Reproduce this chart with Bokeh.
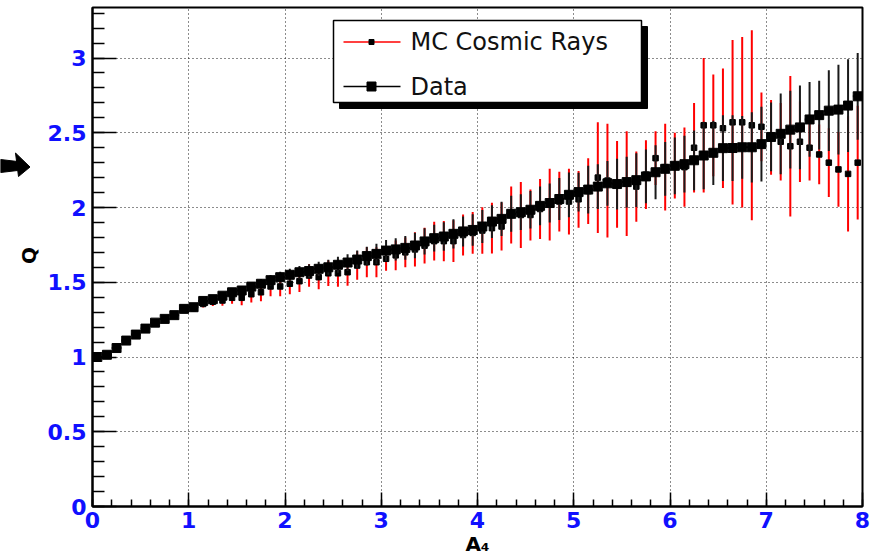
import numpy as np
from bokeh.plotting import figure
from bokeh.layouts import row
from bokeh.models import FixedTicker, ColumnDataSource
from bokeh.core.properties import value
from bokeh.embed import file_html
from bokeh.resources import INLINE

# ---------------- data ----------------
bin_width = 0.1
a4 = np.round(np.arange(0.05, 8.0, bin_width), 2)   # bin centres of A4

data_q = [1.000, 1.015, 1.060, 1.110, 1.150, 1.190, 1.230, 1.255, 1.280, 1.322,
          1.333, 1.375, 1.387, 1.410, 1.433, 1.445, 1.471, 1.490, 1.514, 1.534,
          1.550, 1.567, 1.575, 1.590, 1.600, 1.617, 1.632, 1.652, 1.675, 1.690,
          1.712, 1.720, 1.730, 1.746, 1.773, 1.795, 1.806, 1.824, 1.840, 1.850,
          1.873, 1.906, 1.924, 1.958, 1.969, 1.985, 2.011, 2.030, 2.057, 2.085,
          2.103, 2.120, 2.140, 2.162, 2.157, 2.170, 2.183, 2.208, 2.236, 2.259,
          2.279, 2.290, 2.316, 2.348, 2.366, 2.397, 2.398, 2.403, 2.403, 2.424,
          2.472, 2.493, 2.521, 2.536, 2.589, 2.618, 2.648, 2.655, 2.682, 2.744]
data_err = [0.005, 0.006, 0.007, 0.008, 0.009, 0.010, 0.011, 0.012, 0.013, 0.014,
            0.016, 0.018, 0.020, 0.022, 0.025, 0.027, 0.030, 0.032, 0.035, 0.037,
            0.040, 0.042, 0.045, 0.048, 0.050, 0.053, 0.056, 0.060, 0.063, 0.067,
            0.070, 0.075, 0.080, 0.085, 0.088, 0.090, 0.095, 0.098, 0.100, 0.105,
            0.110, 0.110, 0.115, 0.120, 0.120, 0.125, 0.130, 0.130, 0.140, 0.150,
            0.130, 0.160, 0.150, 0.150, 0.170, 0.170, 0.180, 0.180, 0.180, 0.180,
            0.190, 0.190, 0.200, 0.225, 0.215, 0.220, 0.220, 0.210, 0.235, 0.250,
            0.230, 0.270, 0.260, 0.280, 0.250, 0.230, 0.270, 0.300, 0.310, 0.290]

mc_q = [1.000, 1.015, 1.058, 1.108, 1.148, 1.188, 1.226, 1.252, 1.276, 1.315,
        1.325, 1.355, 1.370, 1.378, 1.396, 1.396, 1.420, 1.433, 1.472, 1.472,
        1.490, 1.507, 1.545, 1.534, 1.560, 1.560, 1.567, 1.612, 1.634, 1.634,
        1.657, 1.680, 1.700, 1.720, 1.745, 1.775, 1.775, 1.775, 1.816, 1.830,
        1.846, 1.862, 1.873, 1.950, 1.950, 1.950, 1.990, 2.020, 2.040, 2.040,
        2.055, 2.110, 2.200, 2.180, 2.155, 2.160, 2.140, 2.220, 2.330, 2.270,
        2.280, 2.270, 2.400, 2.550, 2.550, 2.530, 2.570, 2.570, 2.550, 2.540,
        2.470, 2.440, 2.410, 2.440, 2.400, 2.355, 2.300, 2.255, 2.225, 2.300]
mc_err = [0.006, 0.007, 0.008, 0.009, 0.010, 0.011, 0.012, 0.013, 0.014, 0.016,
          0.020, 0.024, 0.028, 0.035, 0.040, 0.050, 0.055, 0.060, 0.065, 0.065,
          0.070, 0.072, 0.075, 0.080, 0.085, 0.090, 0.090, 0.095, 0.100, 0.100,
          0.080, 0.100, 0.100, 0.115, 0.120, 0.130, 0.135, 0.140, 0.137, 0.140,
          0.155, 0.170, 0.160, 0.190, 0.220, 0.170, 0.200, 0.240, 0.200, 0.220,
          0.190, 0.220, 0.370, 0.380, 0.290, 0.350, 0.235, 0.230, 0.180, 0.290,
          0.220, 0.265, 0.300, 0.450, 0.340, 0.400, 0.550, 0.570, 0.635, 0.230,
          0.250, 0.260, 0.470, 0.270, 0.220, 0.200, 0.230, 0.250, 0.385, 0.380]

x_ticks = [0, 1, 2, 3, 4, 5, 6, 7, 8]
x_tick_labels = ["0", "1", "2", "3", "4", "5", "6", "7", "8"]
y_ticks = [0, 0.5, 1, 1.5, 2, 2.5, 3]
y_tick_labels = ["0", "0.5", "1", "1.5", "2", "2.5", "3"]
legend_labels = ["MC Cosmic Rays", "Data"]
x_title = "A\u2084"
y_title = "Q"

# ---------------- layout ----------------
W, H = 876, 558
SIDE_W = 40                                # left strip with arrow and y title
FL, FR, FT, FB = 92, 862, 7, 506           # frame edges in page pixels
X0, X1 = 0.0, 8.0
Y0, Y1 = 0.0, 3.338

def px2x(px):
    return X0 + (px - FL) / (FR - FL) * (X1 - X0)

def py2y(py):
    return Y0 + (FB - py) / (FB - FT) * (Y1 - Y0)

# left strip: frame aligned vertically with the main frame, x in page pixels
side = figure(width=SIDE_W, height=H, x_range=(0, SIDE_W), y_range=(Y0, Y1),
              output_backend="svg", toolbar_location=None,
              min_border_left=0, min_border_right=0,
              min_border_top=FT, min_border_bottom=H - FB,
              x_axis_type=None, y_axis_type=None)
side.outline_line_color = None
side.grid.visible = False
side.background_fill_color = "white"
side.border_fill_color = "white"

side.patch([0, 17, 17, 0], [py2y(159), py2y(161), py2y(170), py2y(172)],
           fill_color="black", line_color="black")
side.patch([15, 29.5, 18], [py2y(152.5), py2y(166.5), py2y(176)],
           fill_color="black", line_color="black")
side.text(x=[28], y=[py2y(255)], text=[y_title], angle=np.pi / 2,
          text_font=value("DejaVu Sans"), text_font_style="bold",
          text_font_size="20px", text_align="center", text_baseline="middle",
          text_color="black")

p = figure(width=W - SIDE_W, height=H, x_range=(X0, X1), y_range=(Y0, Y1),
           output_backend="svg", toolbar_location=None,
           min_border_left=FL - SIDE_W, min_border_right=W - FR,
           min_border_top=FT, min_border_bottom=H - FB)
p.background_fill_color = "white"
p.border_fill_color = "white"
p.outline_line_color = "black"
p.outline_line_width = 2

p.xaxis.ticker = FixedTicker(ticks=x_ticks,
                             minor_ticks=[round(v * 0.2, 1) for v in range(0, 41)])
p.yaxis.ticker = FixedTicker(ticks=y_ticks,
                             minor_ticks=[round(v * 0.1, 1) for v in range(0, 34)])
p.xgrid.ticker = FixedTicker(ticks=x_ticks)
p.ygrid.ticker = FixedTicker(ticks=y_ticks)
for g in (p.xgrid, p.ygrid):
    g.grid_line_color = "black"
    g.grid_line_dash = "1 3"
    g.grid_line_width = 1
    g.grid_line_alpha = 0.9

p.xaxis.major_label_overrides = {t: l for t, l in zip(x_ticks, x_tick_labels)}
p.yaxis.major_label_overrides = {t: l for t, l in zip(y_ticks, y_tick_labels)}

for ax in (p.xaxis, p.yaxis):
    ax.axis_line_color = "black"
    ax.axis_line_width = 2
    ax.major_tick_line_color = "black"
    ax.major_tick_line_width = 1.5
    ax.minor_tick_line_color = "black"
    ax.minor_tick_line_width = 1.5
    ax.major_tick_out = 0
    ax.minor_tick_out = 0
    ax.major_label_text_color = "#1010ff"
    ax.major_label_text_font = "DejaVu Sans"
    ax.major_label_text_font_style = "bold"
    ax.major_label_text_font_size = "22px"
p.xaxis.major_tick_in = 14
p.xaxis.minor_tick_in = 7
p.yaxis.major_tick_in = 24
p.yaxis.minor_tick_in = 12
p.xaxis.major_label_standoff = 5
p.yaxis.major_label_standoff = 6

p.xaxis.axis_label = x_title
p.xaxis.axis_label_text_font = "DejaVu Sans"
p.xaxis.axis_label_text_font_style = "bold"
p.xaxis.axis_label_text_font_size = "20px"
p.xaxis.axis_label_text_color = "black"
p.xaxis.axis_label_standoff = 1

# ---------------- series ----------------
x = a4
dq = np.array(data_q); de = np.array(data_err)
mq = np.array(mc_q); me = np.array(mc_err)

mc_src = ColumnDataSource(dict(x=x, y=mq, lo=mq - me, hi=mq + me))
d_src = ColumnDataSource(dict(x=x, y=dq, lo=dq - de, hi=dq + de,
                              xl=x - bin_width / 2, xr=x + bin_width / 2))

p.segment(x0="x", y0="lo", x1="x", y1="hi", source=mc_src,
          line_color="#ff0000", line_width=2)
p.scatter("x", "y", source=mc_src, marker="square", size=5.5,
          fill_color="black", line_color="black")

p.segment(x0="x", y0="lo", x1="x", y1="hi", source=d_src,
          line_color="#1a1a1a", line_width=2)
p.segment(x0="xl", y0="y", x1="xr", y1="y", source=d_src,
          line_color="black", line_width=2)
p.scatter("x", "y", source=d_src, marker="square", size=9,
          fill_color="black", line_color="black")

# ---------------- legend (drawn by hand, ROOT style) ----------------
p.quad(left=px2x(339), right=px2x(647), top=py2y(26), bottom=py2y(108),
       fill_color="black", line_color="black")
p.quad(left=px2x(333), right=px2x(641), top=py2y(20), bottom=py2y(102),
       fill_color="white", line_color="black", line_width=1.5)
leg_rows = [py2y(41.5), py2y(86)]
p.segment(x0=[px2x(343)], y0=[leg_rows[0]], x1=[px2x(400)], y1=[leg_rows[0]],
          line_color="#ff0000", line_width=1.5)
p.scatter([px2x(371)], [leg_rows[0]], marker="square", size=5,
          fill_color="black", line_color="black")
p.segment(x0=[px2x(343)], y0=[leg_rows[1]], x1=[px2x(400)], y1=[leg_rows[1]],
          line_color="black", line_width=1.5)
p.scatter([px2x(371)], [leg_rows[1]], marker="square", size=9,
          fill_color="black", line_color="black")
p.text(x=[px2x(410)] * 2, y=leg_rows, text=legend_labels,
       text_font=value("DejaVu Sans"), text_font_size="24px",
       text_baseline="middle", text_align="left", text_color="#111111")

layout = row(side, p, spacing=0)
open("out.html", "w").write(file_html(layout, INLINE))
